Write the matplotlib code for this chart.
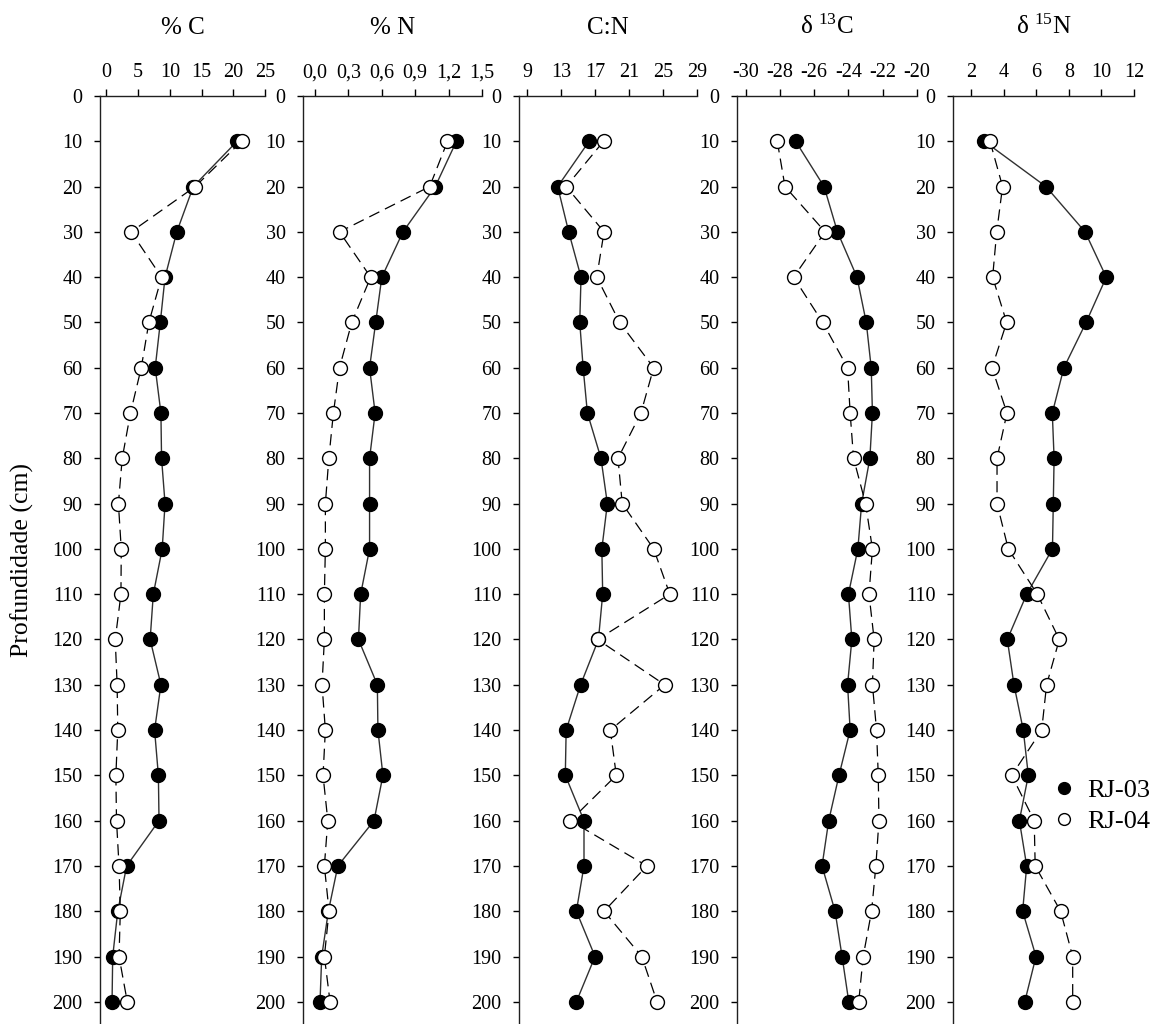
import matplotlib
matplotlib.use('Agg')
from matplotlib import pyplot as plt
from matplotlib.lines import Line2D

plt.rcParams['font.family'] = 'Liberation Serif'
plt.rcParams['mathtext.fontset'] = 'custom'
plt.rcParams['mathtext.rm'] = 'Liberation Serif'
plt.rcParams['mathtext.it'] = 'Liberation Serif:italic'

# depth of each sample (cm)
depth = [10, 20, 30, 40, 50, 60, 70, 80, 90, 100,
         110, 120, 130, 140, 150, 160, 170, 180, 190, 200]
depth_ticks = [0, 10, 20, 30, 40, 50, 60, 70, 80, 90, 100,
               110, 120, 130, 140, 150, 160, 170, 180, 190, 200]

# % C
c_rj03 = [20.6, 13.7, 11.1, 9.25, 8.5, 7.7, 8.6, 8.7, 9.25, 8.8,
          7.4, 6.9, 8.6, 7.6, 8.2, 8.3, 3.2, 1.8, 1.0, 0.9]
c_rj04 = [21.3, 14.0, 3.9, 8.7, 6.7, 5.5, 3.8, 2.5, 1.9, 2.35,
          2.3, 1.4, 1.7, 1.8, 1.5, 1.6, 2.0, 2.2, 2.0, 3.3]

# % N
n_rj03 = [1.27, 1.08, 0.79, 0.60, 0.545, 0.49, 0.54, 0.49, 0.49, 0.49,
          0.41, 0.39, 0.56, 0.565, 0.61, 0.53, 0.205, 0.12, 0.06, 0.045]
n_rj04 = [1.19, 1.03, 0.22, 0.50, 0.33, 0.22, 0.165, 0.124, 0.093, 0.093,
          0.084, 0.084, 0.063, 0.093, 0.072, 0.115, 0.084, 0.126, 0.084, 0.135]

# C:N
cn_rj03 = [16.3, 12.6, 13.9, 15.35, 15.2, 15.6, 16.1, 17.7, 18.45, 17.8,
           17.9, 17.4, 15.3, 13.6, 13.5, 15.7, 15.7, 14.8, 17.0, 14.8]
cn_rj04 = [18.0, 13.6, 18.06, 17.2, 19.9, 23.9, 22.4, 19.7, 20.2, 23.9,
           25.8, 17.3, 25.2, 18.8, 19.5, 14.1, 23.1, 18.06, 22.5, 24.3]

# delta 13C
d13c_rj03 = [-27.08, -25.42, -24.64, -23.5, -22.96, -22.67, -22.6, -22.75, -23.23, -23.45,
             -24.0, -23.8, -24.05, -23.9, -24.55, -25.15, -25.54, -24.78, -24.37, -23.98]
d13c_rj04 = [-28.15, -27.7, -25.36, -27.2, -25.5, -24.05, -23.9, -23.7, -23.0, -22.6,
             -22.8, -22.5, -22.6, -22.36, -22.26, -22.22, -22.4, -22.65, -23.14, -23.4]

# delta 15N
d15n_rj03 = [2.82, 6.6, 9.0, 10.3, 9.06, 7.7, 6.99, 7.1, 7.05, 7.0,
             5.42, 4.23, 4.64, 5.21, 5.52, 4.97, 5.42, 5.17, 5.99, 5.3]
d15n_rj04 = [3.17, 3.94, 3.58, 3.33, 4.19, 3.29, 4.21, 3.6, 3.6, 4.29,
             6.07, 7.42, 6.64, 6.34, 4.5, 5.88, 5.94, 7.5, 8.24, 8.24]

# x ticks of each panel
c_ticks = [0, 5, 10, 15, 20, 25]
n_ticks = [0.0, 0.3, 0.6, 0.9, 1.2, 1.5]
n_ticklabels = ['0,0', '0,3', '0,6', '0,9', '1,2', '1,5']
cn_ticks = [9, 13, 17, 21, 25, 29]
d13c_ticks = [-30, -28, -26, -24, -22, -20]
d15n_ticks = [2, 4, 6, 8, 10, 12]

titles = ['% C', '% N', 'C:N', r'δ $^{13}$C', r'δ $^{15}$N']
series_labels = ['RJ-03', 'RJ-04']

W, H = 1158, 1024
fig = plt.figure(figsize=(W / 100, H / 100), dpi=100)

# panel layout in pixels: left edge, right edge
panels = [
    (100, 265, c_rj03, c_rj04, (-1, 25), c_ticks, [str(t) for t in c_ticks]),
    (303, 482, n_rj03, n_rj04, (-0.108, 1.5), n_ticks, n_ticklabels),
    (519, 697, cn_rj03, cn_rj04, (8.05, 29), cn_ticks, [str(t) for t in cn_ticks]),
    (737, 917, d13c_rj03, d13c_rj04, (-30.5, -20), d13c_ticks, [str(t) for t in d13c_ticks]),
    (953, 1134, d15n_rj03, d15n_rj04, (0.9, 12), d15n_ticks, [str(t) for t in d15n_ticks]),
]

top_px = 96
for i, (x0, x1, s03, s04, xlim, xt, xtl) in enumerate(panels):
    ax = fig.add_axes([x0 / W, 0, (x1 - x0) / W, 1 - top_px / H])
    ax.plot(s03, depth, '-', color='#303030', lw=1, marker='o', ms=10,
            mfc='black', mec='black', mew=1, zorder=3)
    ax.plot(s04, depth, color='black', lw=0.9, dashes=(9, 5), marker='o', ms=10,
            mfc='white', mec='black', mew=1, zorder=4)
    ax.set_xlim(*xlim)
    ax.set_ylim(204.9, 0)
    ax.xaxis.tick_top()
    ax.set_xticks(xt)
    ax.set_xticklabels(xtl)
    ax.set_yticks(depth_ticks)
    ax.set_yticklabels([str(d) for d in depth_ticks])
    ax.tick_params(axis='x', direction='out', length=5, width=1, pad=5, labelsize=14.5)
    ax.tick_params(axis='y', direction='out', length=4.5, width=1, pad=8, labelsize=14.5)
    for side in ['right', 'bottom']:
        ax.spines[side].set_visible(False)
    for side in ['left', 'top']:
        ax.spines[side].set_linewidth(1)
        ax.spines[side].set_color('#202020')
    ax.patch.set_alpha(0)
    fig.text((x0 + x1) / 2 / W, 1 - 34 / H, titles[i], ha='center', va='baseline',
             fontsize=18)

fig.text(22 / W, 1 - 560 / H, 'Profundidade (cm)', rotation=90, ha='center',
         va='center', fontsize=18.5)

handles = [Line2D([], [], ls='none', marker='o', ms=8.5, mfc='black', mec='black'),
           Line2D([], [], ls='none', marker='o', ms=8.5, mfc='white', mec='black')]
fig.legend(handles, series_labels, loc='center left',
           bbox_to_anchor=(1053 / W, 1 - 806 / H), frameon=False, fontsize=19,
           handlelength=0.8, handletextpad=0.5, labelspacing=0.3, borderpad=0,
           borderaxespad=0)

fig.savefig('out.png', dpi=100)
